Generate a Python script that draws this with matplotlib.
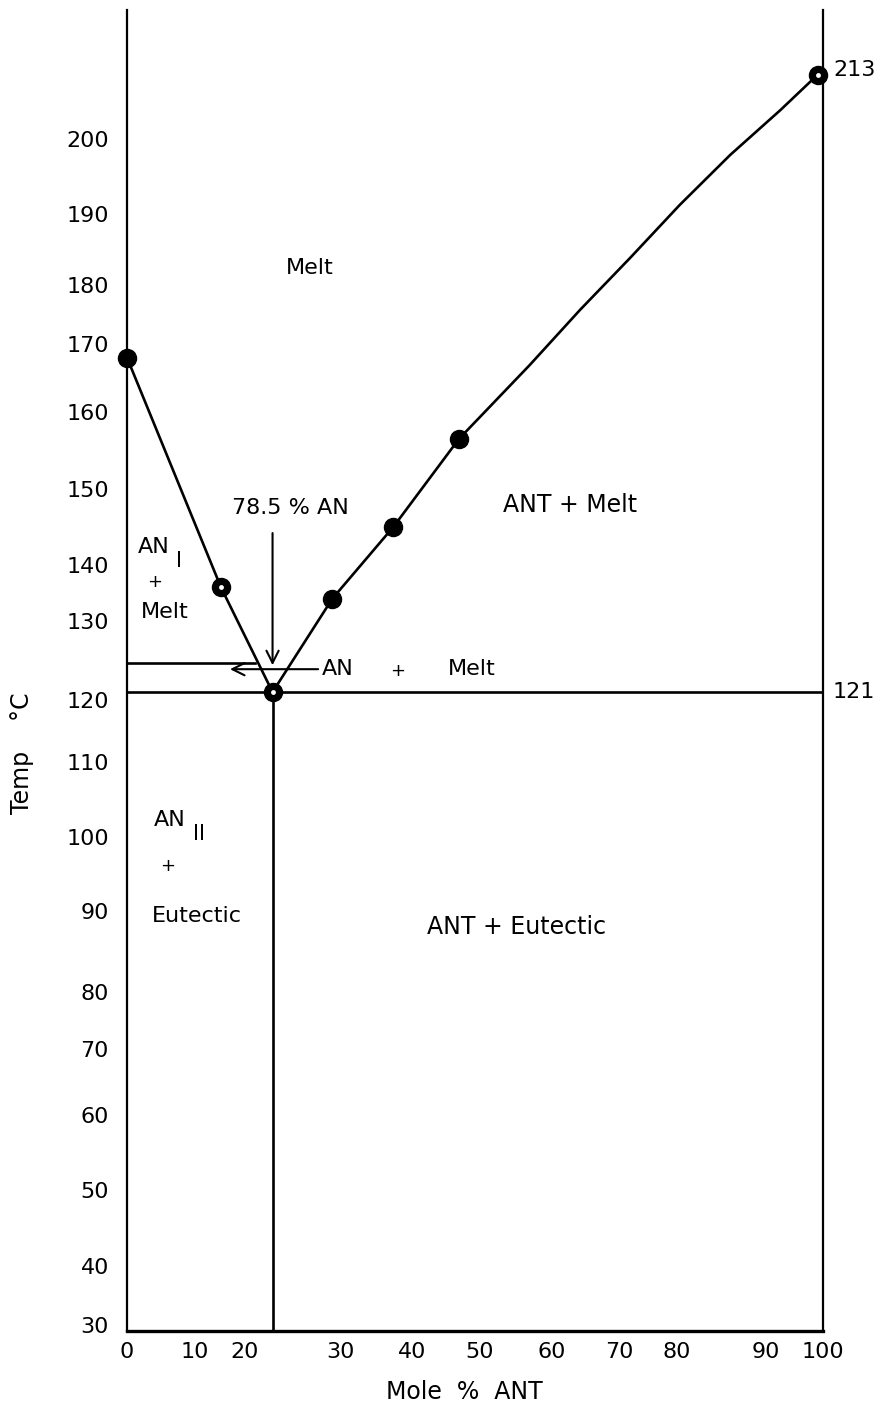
"""AN - ANT phase diagram (mole % ANT vs temperature), hand-lettered axes."""
import numpy as np
import matplotlib
matplotlib.use("Agg")
import matplotlib.pyplot as plt

W, H, DPI = 874, 1415, 100

# printed tick labels
x_ticks = [0, 10, 20, 30, 40, 50, 60, 70, 80, 90, 100]
y_ticks = [30, 40, 50, 60, 70, 80, 90, 100, 110, 120,
           130, 140, 150, 160, 170, 180, 190, 200]

# the labels were lettered by hand and are not evenly spaced:
# pixel position of each printed label (used to build the axis scales)
x_label_px = [127, 195, 245, 340, 412, 480, 552, 619, 677, 766, 823]
y_label_px = [1325, 1266, 1190, 1115, 1049, 992, 911, 837, 762, 700,
              621, 565, 489, 412, 344, 285, 214, 139]
y_top_value, y_top_px = 226, 10      # axis runs a little past 213
ax_left, ax_right, ax_bottom = 127, 823, 1331

# measured liquidus points (mole % ANT, deg C)
an_side_x = [0, 15.2, 22.9]
an_side_t = [168, 136, 121]
ant_side_x = [22.9, 29.2, 37.4, 46.9]
ant_side_t = [121, 134, 145, 156.5]
# ANT liquidus traced from 47 % up to the ANT melting point
ant_curve_x = [46.9, 56.9, 64.2, 71.9, 80.3, 86.0, 92.5, 99.1]
ant_curve_t = [156.5, 166.9, 175.8, 183.8, 191.2, 197.9, 205.8, 213]
pts_x = [0, 15.2, 22.9, 29.2, 37.4, 46.9, 99.1]
pts_t = [168, 136, 121, 134, 145, 156.5, 213]
open_centre = [False, True, True, False, False, False, True]

eutectic_t = 121
an_transition_t = 124.7       # AN I -> II
an_transition_end_x = 21.0


def _interp(v, xp, fp):
    """np.interp with linear extrapolation at both ends."""
    v = np.asarray(v, dtype=float)
    xp = np.asarray(xp, dtype=float)
    fp = np.asarray(fp, dtype=float)
    out = np.interp(v, xp, fp)
    lo = (fp[1] - fp[0]) / (xp[1] - xp[0])
    hi = (fp[-1] - fp[-2]) / (xp[-1] - xp[-2])
    out = np.where(v < xp[0], fp[0] + (v - xp[0]) * lo, out)
    out = np.where(v > xp[-1], fp[-1] + (v - xp[-1]) * hi, out)
    return out


ty = np.array(y_ticks + [y_top_value], dtype=float)
py = -np.array(y_label_px + [y_top_px], dtype=float)
tx = np.array(x_ticks, dtype=float)
px = np.array(x_label_px, dtype=float)

fwd_x = lambda v: _interp(v, tx, px)
inv_x = lambda v: _interp(v, px, tx)
fwd_y = lambda v: _interp(v, ty, py)
inv_y = lambda v: _interp(v, py, ty)

plt.rcParams["font.family"] = ["DejaVu Sans"]

fig = plt.figure(figsize=(W / DPI, H / DPI), dpi=DPI)
ax = fig.add_axes([ax_left / W, 1 - ax_bottom / H,
                   (ax_right - ax_left) / W, (ax_bottom - y_top_px) / H])
ax.set_xscale("function", functions=(fwd_x, inv_x))
ax.set_yscale("function", functions=(fwd_y, inv_y))
ax.set_xlim(0, 100)
ax.set_ylim(float(inv_y(-ax_bottom)), y_top_value)

lw = 1.9
ax.plot(an_side_x, an_side_t, color="black", lw=lw, solid_capstyle="round")
ax.plot(ant_side_x, ant_side_t, color="black", lw=lw)
ax.plot(ant_curve_x, ant_curve_t, color="black", lw=lw)
ax.axhline(eutectic_t, color="black", lw=lw)
ax.plot([0, an_transition_end_x], [an_transition_t, an_transition_t],
        color="black", lw=lw)
ax.plot([an_side_x[-1], an_side_x[-1]], [ax.get_ylim()[0], eutectic_t],
        color="black", lw=lw)

ax.plot(pts_x, pts_t, "o", color="black", ms=13, clip_on=False, zorder=5)
ox = [x for x, o in zip(pts_x, open_centre) if o]
ot = [t for t, o in zip(pts_t, open_centre) if o]
ax.plot(ox, ot, "o", color="white", ms=3.5, mew=0, clip_on=False, zorder=6)

# arrows
ax.annotate("", xy=(an_side_x[-1], 124.4), xytext=(an_side_x[-1], 144.2),
            arrowprops=dict(arrowstyle="->", lw=1.5, color="black",
                            mutation_scale=22, shrinkA=0, shrinkB=0))
ax.annotate("", xy=(17.0, 123.9), xytext=(27.7, 123.9),
            arrowprops=dict(arrowstyle="->", lw=1.5, color="black",
                            mutation_scale=22, shrinkA=0, shrinkB=0))

ax.set_xticks(x_ticks)
ax.set_yticks(y_ticks)
ax.set_xticklabels([str(v) for v in x_ticks])
ax.set_yticklabels([str(v) for v in y_ticks])
ax.tick_params(axis="both", length=0, labelsize=16)
ax.tick_params(axis="y", pad=13)
ax.tick_params(axis="x", pad=8)
ax.minorticks_off()

ax.spines["top"].set_visible(False)
ax.spines["left"].set_linewidth(1.6)
ax.spines["right"].set_linewidth(1.6)
ax.spines["bottom"].set_linewidth(2.4)


def label(x, y, s, **kw):
    kw.setdefault("fontsize", 16)
    kw.setdefault("ha", "center")
    kw.setdefault("va", "center")
    fig.text(x / W, 1 - y / H, s, **kw)


label(310, 268, "Melt")
label(570, 505, "ANT + Melt", fontsize=17)
label(290, 508, "78.5 % AN", fontsize=16)
label(154, 547, "AN")
label(179, 561, "I", fontsize=15)
label(155, 582, "+", fontsize=13)
label(165, 612, "Melt")
label(322, 669, "AN", ha="left")
label(398, 671, "+", fontsize=13)
label(448, 669, "Melt", ha="left")
label(170, 820, "AN")
label(199, 834, "II", fontsize=15)
label(168, 866, "+", fontsize=13)
label(197, 916, "Eutectic")
label(517, 927, "ANT + Eutectic", fontsize=17)
label(833, 70, "213", ha="left")
label(833, 692, "121", ha="left")
label(22, 753, "Temp    \u00b0C", rotation=90, fontsize=17)
label(464, 1392, "Mole  %  ANT", fontsize=17)

fig.savefig("out.png", dpi=DPI)
